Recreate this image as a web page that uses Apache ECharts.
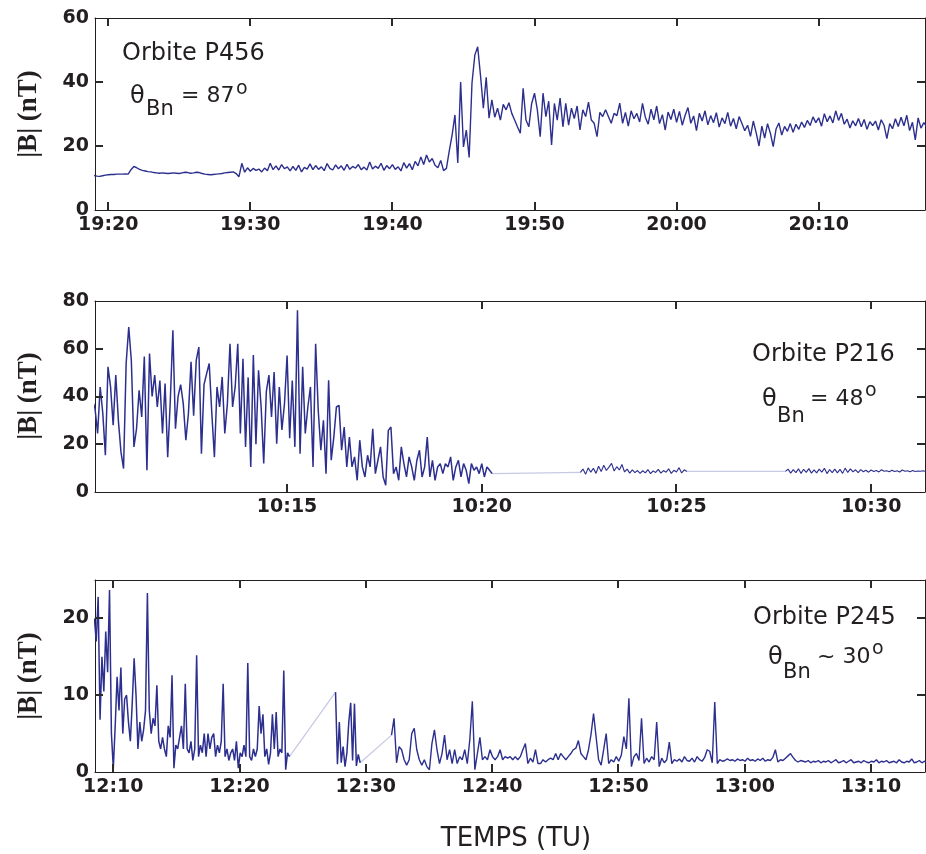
<!DOCTYPE html>
<html><head><meta charset="utf-8">
<script src="https://cdn.jsdelivr.net/npm/echarts@6/dist/echarts.min.js"></script>
<style>html,body{margin:0;padding:0;background:#fff}#c{width:926px;height:854px}</style>
</head><body><div id="c"></div>
<script>
// ---------- Panel 1 : Orbite P456 ----------
const p1Range = ['19:19:04', '20:17:29'];
const p1Ticks = ['19:20', '19:30', '19:40', '19:50', '20:00', '20:10'];
const p1YTicks = [0, 20, 40, 60];
const p1YMax = 60;
const p1Start = '19:19:00';
const p1StepSec = 12;
const p1Values = [
  10.8, 10.6, 10.5, 10.7, 10.9,  11.0, 11.1, 11.1, 11.2, 11.2,
  11.2, 11.3, 11.2, 12.6, 13.6,  13.2, 12.7, 12.4, 12.2, 12.0,
  11.9, 11.7, 11.6, 11.5, 11.6,  11.5, 11.4, 11.5, 11.6, 11.5,
  11.4, 11.6, 11.8, 11.7, 11.5,  11.6, 11.8, 11.7, 11.4, 11.2,
  11.1, 11.0, 11.1, 11.2, 11.3,  11.4, 11.6, 11.7, 11.8, 11.9,
  11.4, 10.4, 14.6, 11.8, 13.2,  12.1, 13.0, 12.4, 12.8, 11.9,
  13.1, 12.3, 14.6, 12.6, 13.8,  12.5, 14.2, 12.9, 13.5, 12.2,
  13.6, 12.4, 14.0, 11.9, 13.3,  12.8, 14.4, 12.6, 13.9, 12.7,
  13.5, 12.3, 14.5, 13.0, 12.5,  14.1, 12.9, 13.8, 12.4, 14.3,
  12.7, 13.6, 13.1, 14.2, 12.6,  13.4, 12.5, 15.0, 12.8, 13.7,
  13.0, 14.6, 12.4, 13.9, 12.9,  14.2, 12.7, 13.5, 12.2, 14.8,
  13.1, 14.5, 12.6, 15.2, 13.8,  16.6, 14.2, 17.2, 15.0, 16.1,
  14.0, 13.2, 15.5, 12.3, 13.0,  18.5, 23.4, 29.7, 14.7, 40.0,
  19.7, 25.0, 16.4, 39.7, 48.4,  51.0, 42.0, 31.8, 41.5, 28.7,
  34.4, 29.0, 31.8, 28.1, 33.0,  31.3, 33.5, 30.2, 28.1, 26.0,
  24.0, 38.0, 28.1, 26.0, 33.3,  36.5, 31.3, 22.9, 36.5, 29.2,
  34.0, 20.3, 33.3, 28.1, 35.0,  26.0, 33.3, 26.5, 31.8, 28.6,
  32.5, 25.0, 31.3, 29.2, 33.7,  28.1, 27.1, 22.9, 30.5, 29.2,
  31.3, 29.2, 27.1, 30.2, 29.5,  33.4, 27.1, 30.5, 26.2, 31.0,
  28.5, 30.2, 27.5, 33.3, 29.0,  26.8, 31.5, 28.2, 32.5, 27.0,
  29.8, 25.0, 30.6, 28.3, 31.5,  27.4, 30.8, 26.5, 29.6, 32.0,
  27.1, 29.4, 24.8, 30.2, 27.8,  31.0, 26.6, 29.5, 27.3, 30.4,
  25.9, 28.8, 27.0, 30.5, 26.2,  28.6, 25.4, 29.2, 27.0, 24.8,
  26.5, 23.0, 27.8, 24.2, 20.0,  26.2, 22.5, 27.0, 24.0, 19.8,
  25.3, 27.2, 23.4, 26.1, 24.6,  27.0, 24.3, 26.8, 25.2, 27.5,
  25.8, 28.0, 26.4, 29.1, 27.3,  28.8, 26.2, 30.1, 27.6, 29.4,
  27.2, 31.0, 28.0, 30.2, 26.8,  28.4, 25.6, 27.9, 26.3, 28.6,
  26.0, 28.3, 25.2, 27.6, 26.4,  27.8, 25.0, 28.2, 26.5, 22.3,
  27.0, 25.4, 28.5, 26.1, 29.0,  26.3, 29.6, 24.8, 27.4, 21.9,
  28.8, 25.6, 27.3, 26.0
];

// ---------- Panel 2 : Orbite P216 ----------
const p2Range = ['10:10:04', '10:31:23'];
const p2Ticks = ['10:15', '10:20', '10:25', '10:30'];
const p2YTicks = [0, 20, 40, 60, 80];
const p2YMax = 80;
const p2StepSec = 4;
const p2Seg1Start = '10:09:56';
const p2Seg1 = [
  36, 38.5, 35, 24.5, 44, 33, 15.4, 52.4, 44, 28, 49, 30, 16.8, 9.8, 53.8,
  69.1, 55, 18.9, 26.5, 42.6, 31.4, 56.7, 9.1, 58, 40, 49, 35.6, 46.7, 24.5, 45.4,
  14.6, 38, 67.7, 26.5, 40, 45, 37, 21.7, 33, 54.5, 32, 55.1, 60.7, 16, 45,
  49.6, 53.8, 33, 14.6, 44, 35.6, 48.2, 24.5, 37, 62.1, 35.6, 44, 62.1, 24.5, 55.8,
  18.9, 48, 10.5, 57.4, 20, 51, 35.6, 11.9, 42, 49, 31.4, 50.2, 20.2, 44, 26,
  37, 57.2, 22.5, 46.7, 18.9, 76.1,
  16, 52.4, 24.5, 35.6, 44, 10.5, 62.1, 34.2, 17.5, 30, 7.7, 46.8, 13.3, 23, 35.6,
  36.3, 17.5, 27.2, 10.5, 23, 10.5, 14.7, 4.9, 21.7, 10.5, 6.3, 15.4, 10.5, 26.5, 7.7,
  13.3, 18.9, 6.3, 2.8, 25.8, 27.2, 7.7, 10.5, 4.9, 18.9, 11.9, 6.3, 14.7, 10.5, 4.9,
  13.3, 17.5, 6.3, 10.5, 23, 6.3, 13.3, 4.9, 10.5, 11.9, 7.7, 11.9, 10.5, 14.7, 4.9,
  10.5, 13.3, 6.3, 11.9, 9.1, 3.5, 11.9, 9.1, 10.5, 7.7, 11.9, 6.3, 10.5, 9.1, 7.7
];
const p2Seg2Start = '10:22:32';
const p2Seg2 = [
  8.2, 9.6, 7.4, 10.1, 8.3, 9.9, 7.8, 10.8, 8.6, 11.2, 9.0, 10.4, 12.0, 8.8,
  10.6, 9.2, 11.5, 8.4, 9.6, 7.9, 9.3, 8.1, 9.0, 7.8, 8.9, 8.0, 9.4, 7.7,
  8.8, 8.2, 9.5, 7.9, 9.0, 8.3, 9.7, 7.8, 9.1, 8.4, 10.2, 8.0, 9.3, 8.6
];
const p2Seg3Start = '10:27:48';
const p2Seg3 = [
  8.6, 9.6, 7.9, 9.4, 8.1, 9.7, 7.8, 9.5, 8.2, 9.8, 7.9, 9.3, 8.0, 9.6,
  8.3, 9.9, 7.7, 9.4, 8.1, 9.6, 8.0, 9.5, 7.8, 10.0, 8.2, 9.7, 8.4, 9.3,
  8.1, 9.4, 8.5, 9.1, 8.3, 9.2, 8.6, 9.0, 8.4, 9.3, 8.7, 8.9, 8.5, 9.1,
  8.6, 8.9, 8.4, 9.2, 8.7, 8.9, 8.5, 9.0, 8.6, 8.8, 8.7, 8.9, 8.6
];

// ---------- Panel 3 : Orbite P245 ----------
const p3Range = ['12:08:33', '13:14:17'];
const p3Ticks = ['12:10', '12:20', '12:30', '12:40', '12:50', '13:00', '13:10'];
const p3YTicks = [0, 10, 20];
const p3YMax = 25;
const p3SegAStart = '12:08:30';
const p3SegAStepSec = 9;
const p3SegA = [
  20.0, 17.0, 22.8, 6.8, 15.0, 10.5, 18.3, 13.0, 23.7, 5.0,
  0.5, 6.0, 12.4, 8.0, 13.6, 5.0, 9.5, 10.0, 6.5, 4.0,
  9.0, 14.8, 10.0, 3.0, 6.5, 4.0, 5.5, 8.0, 23.3, 8.0,
  5.0, 7.0, 6.0, 11.3, 4.0, 3.0, 4.5, 3.0, 2.0, 6.0,
  4.5, 12.6, 0.5, 3.5, 3.0, 4.5, 6.0, 3.0, 11.5, 3.0,
  2.5, 4.0, 1.5, 3.0, 15.2, 2.0, 3.5, 2.5, 5.0, 2.0,
  5.0, 3.0, 4.5, 5.0, 2.0, 3.5, 2.5, 4.0, 11.5, 2.0,
  3.0, 1.5, 2.5, 3.0, 1.5, 4.0, 0.5, 2.5, 2.0, 3.5,
  2.0, 14.2, 2.0, 1.5, 3.0, 2.0, 3.0, 8.6, 5.0, 7.5,
  2.0, 3.0, 1.0, 2.5, 7.5, 3.0, 7.8, 2.0, 3.0, 2.5,
  13.2, 0.3, 2.5, 2.0
];
const p3SegBStart = '12:27:36';
const p3SegBStepSec = 9;
const p3SegB = [10.4, 1.0, 6.5, 1.2, 3.3, 0.7, 2.5, 6.5, 9.0, 1.5, 8.9, 0.8, 2.3, 1.2];
const p3SegCStart = '12:32:02';
const p3SegCStepSec = 12;
const p3SegC = [
  4.8, 7.0, 1.2, 3.3, 2.9, 1.6, 0.9, 1.6, 5.0, 5.7,
  2.9, 1.6, 0.9, 1.6, 0.7, 0.3, 3.7, 5.5, 2.9, 1.1,
  2.4, 4.8, 1.6, 2.9, 1.1, 2.9, 1.1, 2.0, 1.6, 2.9,
  1.1, 4.2, 9.2, 0.3, 2.4, 4.5, 1.6, 2.0, 1.6, 2.9,
  2.0, 1.6, 2.0, 2.9, 1.6, 2.0, 1.8, 2.0, 1.6, 2.0,
  1.6, 2.0, 2.9, 3.7, 1.1, 1.8, 1.3, 2.9, 1.1, 1.1,
  1.6, 1.3, 1.6, 1.8, 1.6, 2.4, 1.6, 2.4, 2.0, 1.6,
  2.0, 2.4, 2.9, 3.1, 4.1, 2.4, 2.0, 1.6, 2.9, 4.9,
  7.6, 4.6, 1.6, 0.9, 2.9, 5.0, 1.1, 1.6, 1.3, 2.0,
  1.4, 2.2, 4.6, 3.0, 9.6, 0.7, 2.0, 2.4, 1.5, 7.0,
  1.1, 1.8, 1.3, 2.0, 1.6, 6.5, 0.7, 1.8, 1.2, 1.6,
  3.9, 1.1, 1.6, 1.4, 1.7, 1.3, 2.0, 1.5, 1.4, 1.8,
  1.3, 2.0, 1.6, 1.4, 1.9, 2.9, 2.7, 1.2, 9.1, 1.1,
  1.6, 1.4, 1.5, 1.7, 1.5, 1.6, 1.4, 1.7, 1.5, 1.6,
  1.4, 1.8, 1.5, 1.6, 1.4, 1.7, 1.5, 1.8, 1.4, 1.6,
  1.5, 1.9, 2.9, 1.3, 1.6, 1.5, 1.8, 2.1, 2.4, 1.9,
  1.5, 1.3, 1.5, 1.4, 1.3, 1.5, 1.2, 1.4, 1.3, 1.5,
  1.2, 1.4, 1.3, 1.5, 1.2, 1.4, 1.6, 1.2, 1.3, 1.5,
  1.2, 1.4, 1.6, 1.2, 1.3, 1.4, 1.2, 1.5, 1.3, 1.2,
  1.4, 1.3, 1.6, 1.2, 1.4, 1.3, 1.5, 1.2, 1.3, 1.4,
  1.2, 1.6, 1.3, 1.2, 1.4, 1.3, 1.7, 1.2, 1.3, 1.5,
  1.2, 1.4, 1.3
];

// ---------- helpers ----------
const toMin = s => { const p = s.split(':').map(Number); return p[0] * 60 + p[1] + (p[2] || 0) / 60; };
const fmt = m => { const t = Math.round(m); const h = Math.floor(t / 60); return h + ':' + String(t - h * 60).padStart(2, '0'); };
const seg = (start, stepSec, vals) => { const t0 = toMin(start); return vals.map((v, i) => [t0 + i * stepSec / 60, v]); };
const gapLink = (a, b) => [a[a.length - 1], b[0]];

const INK = '#231f20';
const TICK_INK = '#2a2a2a';
const LINE = '#2c2f8e';
const FAINT = '#c8c9e4';
const TICK_LEN = 8;
const TICK_W = 2;
const tickFont = { fontFamily: 'DejaVu Sans', fontWeight: 'bold', fontSize: 19, color: INK };

const grids = [
  { left: 95, right: 1, top: 18, height: 192 },
  { left: 95, right: 1, top: 301, height: 191 },
  { left: 95, right: 1, top: 580, height: 192 }
];
const xDefs = [
  { range: p1Range, ticks: p1Ticks },
  { range: p2Range, ticks: p2Ticks },
  { range: p3Range, ticks: p3Ticks }
];
const yDefs = [
  { max: p1YMax, ticks: p1YTicks },
  { max: p2YMax, ticks: p2YTicks },
  { max: p3YMax, ticks: p3YTicks }
];

const xAxis = [], yAxis = [];
xDefs.forEach((d, g) => {
  const tv = d.ticks.map(toMin);
  const lo = toMin(d.range[0]), hi = toMin(d.range[1]);
  const base = {
    type: 'value', gridIndex: g, min: lo, max: hi,
    splitNumber: Math.round((hi - lo) / (tv[1] - tv[0])),
    splitLine: { show: false },
    axisLine: { show: true, onZero: false, lineStyle: { color: INK, width: 1 } },
    axisTick: { show: false }
  };
  xAxis.push(Object.assign({}, base, {
    position: 'bottom',
    axisLabel: Object.assign({ show: true, margin: 6, customValues: tv, formatter: fmt }, tickFont)
  }));
  xAxis.push(Object.assign({}, base, { position: 'top', axisLabel: { show: false } }));
});
yDefs.forEach((d, g) => {
  const base = {
    type: 'value', gridIndex: g, min: 0, max: d.max, interval: d.ticks[1] - d.ticks[0],
    splitLine: { show: false },
    axisLine: { show: true, onZero: false, lineStyle: { color: INK, width: 1 } },
    axisTick: { show: false }
  };
  yAxis.push(Object.assign({}, base, {
    position: 'left',
    axisLabel: Object.assign({ show: true, margin: 6, customValues: d.ticks }, tickFont)
  }));
  yAxis.push(Object.assign({}, base, { position: 'right', axisLabel: { show: false } }));
});

function lineSeries(g, data, color, w) {
  return {
    type: 'line', xAxisIndex: g * 2, yAxisIndex: g * 2, data: data,
    showSymbol: false, symbol: 'none', silent: true, animation: false, clip: true,
    lineStyle: { width: w, color: color }
  };
}

const p1 = seg(p1Start, p1StepSec, p1Values);
const p2a = seg(p2Seg1Start, p2StepSec, p2Seg1);
const p2b = seg(p2Seg2Start, p2StepSec, p2Seg2);
const p2c = seg(p2Seg3Start, p2StepSec, p2Seg3);
const p3a = seg(p3SegAStart, p3SegAStepSec, p3SegA);
const p3b = seg(p3SegBStart, p3SegBStepSec, p3SegB);
const p3c = seg(p3SegCStart, p3SegCStepSec, p3SegC);

const series = [
  lineSeries(0, p1, LINE, 1.4),
  lineSeries(1, gapLink(p2a, p2b), FAINT, 1.3),
  lineSeries(1, gapLink(p2b, p2c), FAINT, 1.3),
  lineSeries(1, p2a, LINE, 1.5),
  lineSeries(1, p2b, LINE, 1.1),
  lineSeries(1, p2c, LINE, 1.1),
  lineSeries(2, gapLink(p3a, p3b), FAINT, 1.3),
  lineSeries(2, gapLink(p3b, p3c), FAINT, 1.3),
  lineSeries(2, p3a, LINE, 1.5),
  lineSeries(2, p3b, LINE, 1.5),
  lineSeries(2, p3c, LINE, 1.4)
];

function txt(x, y, text, font, align, extra) {
  return Object.assign({
    type: 'text', x: x, y: y, silent: true,
    style: { text: text, font: font, fill: INK, textAlign: align || 'left', textVerticalAlign: 'middle', align: align || 'left', verticalAlign: 'middle' }
  }, extra || {});
}
const SANS = '"DejaVu Sans"';
const graphic = [
  txt(29, 114, '|B| (nT)', 'bold 27px "Liberation Serif"', 'center', { rotation: Math.PI / 2 }),
  txt(29, 396, '|B| (nT)', 'bold 27px "Liberation Serif"', 'center', { rotation: Math.PI / 2 }),
  txt(29, 676, '|B| (nT)', 'bold 27px "Liberation Serif"', 'center', { rotation: Math.PI / 2 }),
  txt(122, 53.5, 'Orbite P456', '24px ' + SANS),
  txt(130, 97, 'θ', '24px ' + SANS),
  txt(146, 110, 'Bn', '21px ' + SANS),
  txt(181, 96, '= 87', '22px ' + SANS),
  txt(236, 89, 'o', '19px ' + SANS),
  txt(752, 354.5, 'Orbite P216', '24px ' + SANS),
  txt(762, 400, 'θ', '24px ' + SANS),
  txt(777, 417, 'Bn', '21px ' + SANS),
  txt(810, 399, '= 48', '22px ' + SANS),
  txt(865, 391, 'o', '19px ' + SANS),
  txt(753, 618, 'Orbite P245', '24px ' + SANS),
  txt(768, 658, 'θ', '24px ' + SANS),
  txt(783, 673, 'Bn', '21px ' + SANS),
  txt(817, 657, '~ 30', '22px ' + SANS),
  txt(872, 649, 'o', '19px ' + SANS),
  txt(516, 839, 'TEMPS (TU)', '26px ' + SANS, 'center')
];

const chart = echarts.init(document.getElementById('c'), null, { renderer: 'canvas' });
chart.setOption({
  animation: false,
  backgroundColor: '#fff',
  grid: grids,
  xAxis: xAxis,
  yAxis: yAxis,
  series: series,
  graphic: graphic
});

// inward tick marks on all four sides, placed with the axes' own scales
function tickRect(x, y, w, h) {
  return { type: 'rect', silent: true, z: 100, shape: { x: x, y: y, width: w, height: h }, style: { fill: TICK_INK } };
}
let tickEls = [];
xDefs.forEach((d, g) => {
  const finder = { gridIndex: g };
  const lo = toMin(d.range[0]), hi = toMin(d.range[1]);
  d.ticks.forEach(t => {
    const b = chart.convertToPixel(finder, [toMin(t), 0]);
    const tp = chart.convertToPixel(finder, [toMin(t), yDefs[g].max]);
    if (!b || !tp) return;
    const x = Math.round(b[0] - TICK_W / 2);
    tickEls.push(tickRect(x, Math.round(b[1]) - TICK_LEN, TICK_W, TICK_LEN));
    tickEls.push(tickRect(x, Math.round(tp[1]), TICK_W, TICK_LEN));
  });
  yDefs[g].ticks.filter(v => v > 0 && v < yDefs[g].max).forEach(v => {
    const l = chart.convertToPixel(finder, [lo, v]);
    const r = chart.convertToPixel(finder, [hi, v]);
    if (!l || !r) return;
    const y = Math.round(l[1] - TICK_W / 2);
    tickEls.push(tickRect(Math.round(l[0]), y, TICK_LEN, TICK_W));
    tickEls.push(tickRect(Math.round(r[0]) - TICK_LEN, y, TICK_LEN, TICK_W));
  });
});
chart.setOption({ graphic: { elements: graphic.concat(tickEls) } }, { replaceMerge: ['graphic'] });
</script>
</body></html>
